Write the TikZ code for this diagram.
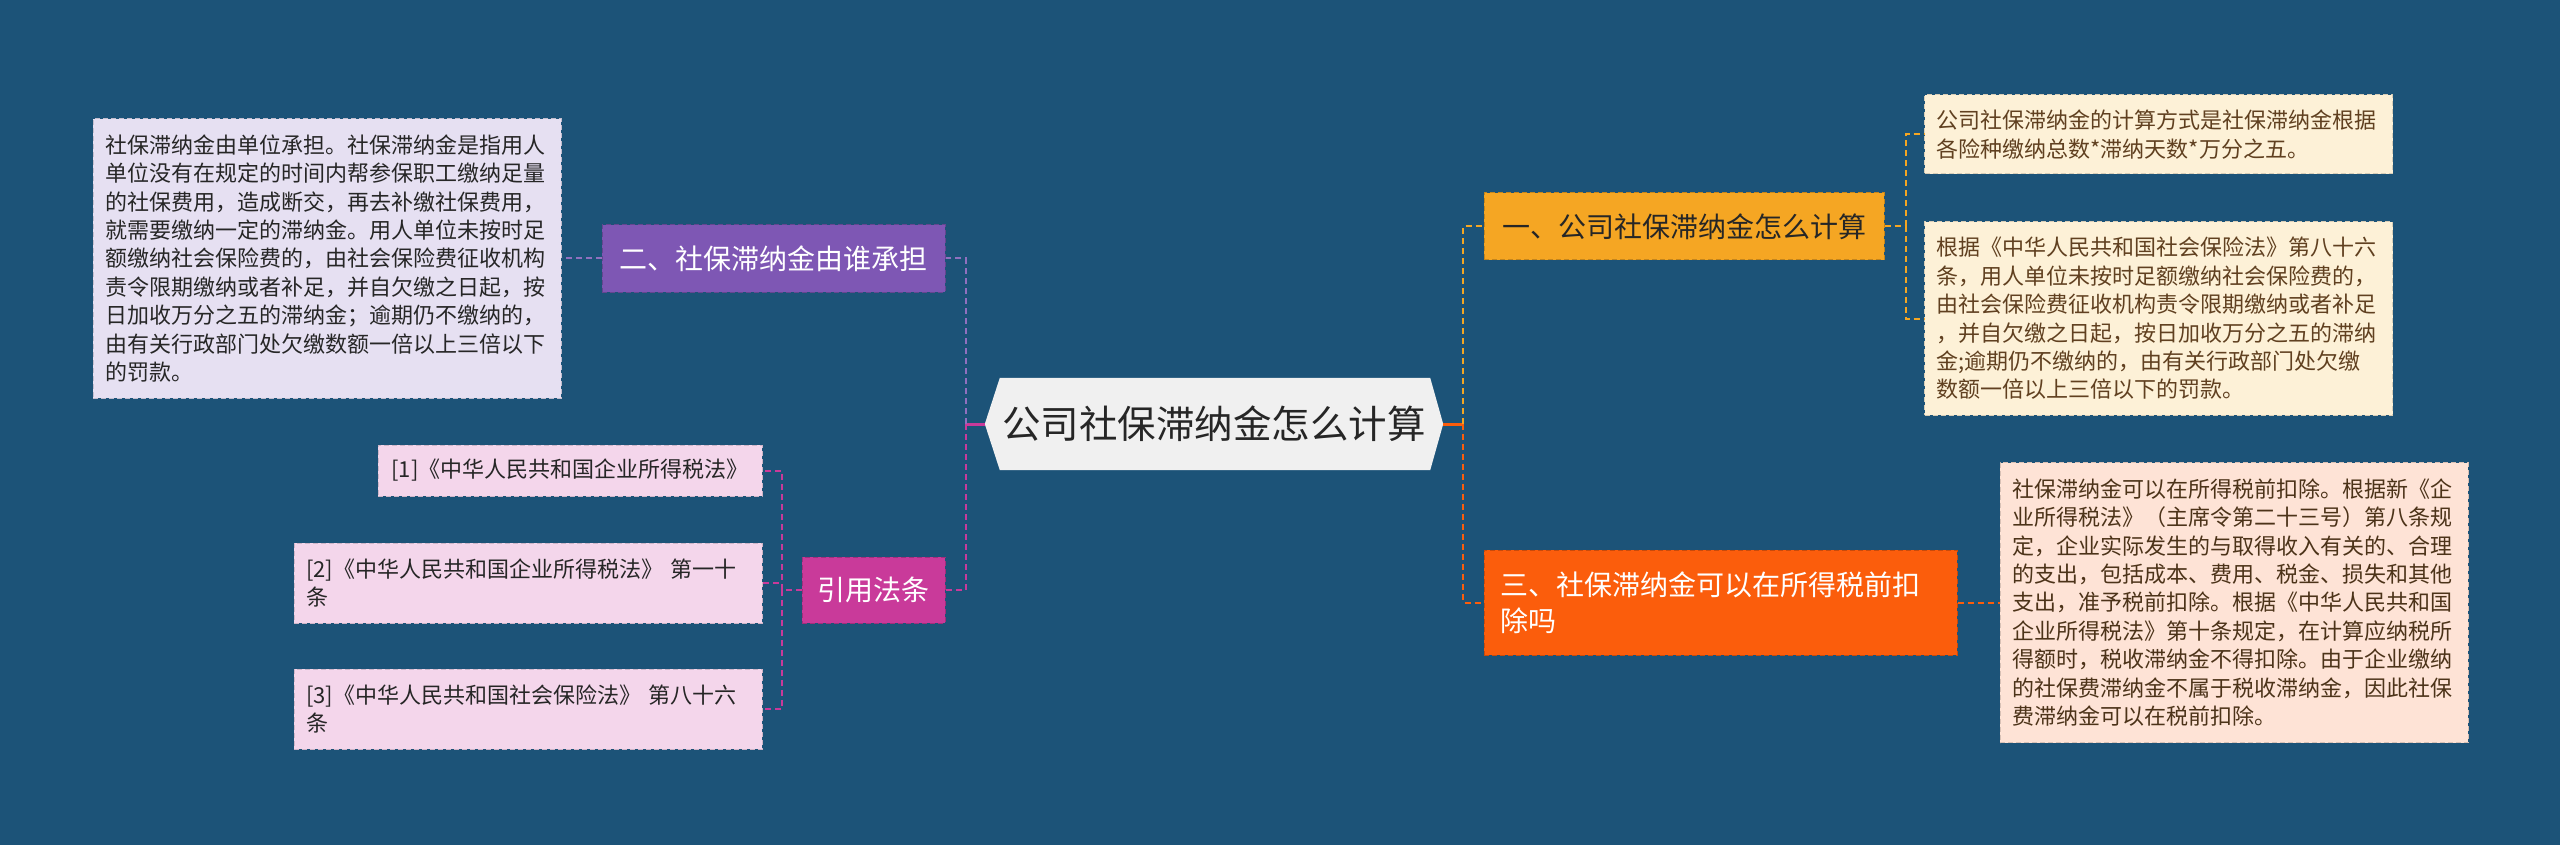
\documentclass[tikz,border=0pt]{standalone}
\usepackage{fontspec}
\setmainfont{Noto Sans CJK SC}
\usetikzlibrary{positioning}

\definecolor{bgblue}{HTML}{1C5378}
\definecolor{rootgray}{HTML}{F0F0F0}
\definecolor{purpleC}{HTML}{7E57B4}
\definecolor{magentaC}{HTML}{C93A9A}
\definecolor{yellowC}{HTML}{F5A623}
\definecolor{orangeC}{HTML}{FB5D0C}
\definecolor{lavender}{HTML}{E6E0F2}
\definecolor{pinkbox}{HTML}{F4D6EB}
\definecolor{creambox}{HTML}{FDF1D7}
\definecolor{peachbox}{HTML}{FEE3D6}

\pgfdeclarelayer{canvas}
\pgfdeclarelayer{under}
\pgfsetlayers{canvas,under,main}

\begin{document}
\begin{tikzpicture}[
    x=1pt, y=-1pt,
    topic/.style={
        rectangle,
        draw=#1!80!black,
        dash pattern=on 5pt off 3pt,
        line width=1pt,
        fill=#1,
        text=white,
        font=\fontsize{28}{36}\selectfont,
        inner sep=0pt
    },
    leaf/.style={
        rectangle,
        draw=#1!85!black,
        dash pattern=on 5pt off 3pt,
        line width=1pt,
        fill=#1,
        font=\fontsize{22}{28.4}\selectfont,
        text width=444pt,
        inner xsep=12pt,
        inner ysep=0pt,
        align=left
    },
    link/.style={draw=#1, line width=2pt, dash pattern=on 6pt off 4pt},
    stem/.style={draw=#1, line width=3pt}
]

\begin{pgfonlayer}{canvas}
\fill[bgblue] (0,0) rectangle (2560,845);
\end{pgfonlayer}

% centre
\node[inner sep=0pt, minimum width=458pt, minimum height=92pt,
      text=black!85, font=\fontsize{38.5}{46}\selectfont] (root) at (1214,424) {公司社保滞纳金怎么计算};
\begin{pgfonlayer}{under}
\fill[rootgray] ([xshift=15pt]root.north west) -- ([xshift=-13pt]root.north east) -- (root.east)
    -- ([xshift=-13pt]root.south east) -- ([xshift=15pt]root.south west) -- (root.west) -- cycle;
\end{pgfonlayer}

% left branches
\node[topic=purpleC, minimum width=343pt, minimum height=67pt] (who) at (773.5,258.5) {二、社保滞纳金由谁承担};
\node[leaf=lavender, minimum height=279pt, text=black!85, left=40pt of who] (whotext) {社保滞纳金由单位承担。社保滞纳金是指用人\\单位没有在规定的时间内帮参保职工缴纳足量\\的社保费用，造成断交，再去补缴社保费用，\\就需要缴纳一定的滞纳金。用人单位未按时足\\额缴纳社会保险费的，由社会保险费征收机构\\责令限期缴纳或者补足，并自欠缴之日起，按\\日加收万分之五的滞纳金；逾期仍不缴纳的，\\由有关行政部门处欠缴数额一倍以上三倍以下\\的罚款。};

\node[topic=magentaC, minimum width=143pt, minimum height=66pt] (law) at (873.5,590) {引用法条};
\node[leaf=pinkbox, text=black!85, text width=360pt, align=center, minimum height=51pt] (law1) at (570,470.5) {[1]《中华人民共和国企业所得税法》};
\node[leaf=pinkbox, text=black!85, minimum height=80pt] (law2) at (528,583) {[2]《中华人民共和国企业所得税法》 第一十\\条};
\node[leaf=pinkbox, text=black!85, minimum height=80pt] (law3) at (528,709) {[3]《中华人民共和国社会保险法》 第八十六\\条};

% right branches
\node[topic=yellowC, text=black!85, minimum width=400pt, minimum height=67pt] (calc) at (1684,226.5) {一、公司社保滞纳金怎么计算};
\node[leaf=creambox, text=brown!50!black, minimum height=79pt] (calc1) at (2158.5,134.5) {公司社保滞纳金的计算方式是社保滞纳金根据\\各险种缴纳总数*滞纳天数*万分之五。};
\node[leaf=creambox, text=brown!50!black, minimum height=193pt] (calc2) at (2158.5,318.5) {根据《中华人民共和国社会保险法》第八十六\\条，用人单位未按时足额缴纳社会保险费的，\\由社会保险费征收机构责令限期缴纳或者补足\\，并自欠缴之日起，按日加收万分之五的滞纳\\金;逾期仍不缴纳的，由有关行政部门处欠缴\\数额一倍以上三倍以下的罚款。};

\node[topic=orangeC, text width=441pt, inner xsep=16pt, align=left, minimum height=105pt] (tax) at (1720.5,602.5) {三、社保滞纳金可以在所得税前扣\\除吗};
\node[leaf=peachbox, text=brown!40!black, minimum height=280pt, right=42pt of tax] (taxtext) {社保滞纳金可以在所得税前扣除。根据新《企\\业所得税法》（主席令第二十三号）第八条规\\定，企业实际发生的与取得收入有关的、合理\\的支出，包括成本、费用、税金、损失和其他\\支出，准予税前扣除。根据《中华人民共和国\\企业所得税法》第十条规定，在计算应纳税所\\得额时，税收滞纳金不得扣除。由于企业缴纳\\的社保费滞纳金不属于税收滞纳金，因此社保\\费滞纳金可以在税前扣除。};

% trunks
\coordinate (ltrunk) at ([xshift=-19pt]root.west);
\coordinate (rtrunk) at ([xshift=20pt]root.east);
\coordinate (lawtrunk) at ([xshift=-20pt]law.west);
\coordinate (calctrunk) at ([xshift=21pt]calc.east);

\draw[stem=magentaC] (root.west) -- (ltrunk);
\draw[stem=orangeC] (root.east) -- (rtrunk);
\draw[link=purpleC!85!white] (ltrunk) |- (who.east);
\draw[link=magentaC] (ltrunk) |- (law.east);
\draw[link=yellowC] (rtrunk) |- (calc.west);
\draw[link=orangeC] (rtrunk) |- (tax.west);

\draw[link=purpleC!85!white] (who.west) -- (whotext.east);
\draw[link=magentaC] (law.west) -- (lawtrunk);
\draw[link=magentaC] (lawtrunk) |- (law1.east);
\draw[link=magentaC] (lawtrunk) |- (law2.east);
\draw[link=magentaC] (lawtrunk) |- (law3.east);
\draw[link=yellowC] (calc.east) -- (calctrunk);
\draw[link=yellowC] (calctrunk) |- (calc1.west);
\draw[link=yellowC] (calctrunk) |- (calc2.west);
\draw[link=orangeC] (tax.east) -- (taxtext.west);

\end{tikzpicture}
\end{document}
